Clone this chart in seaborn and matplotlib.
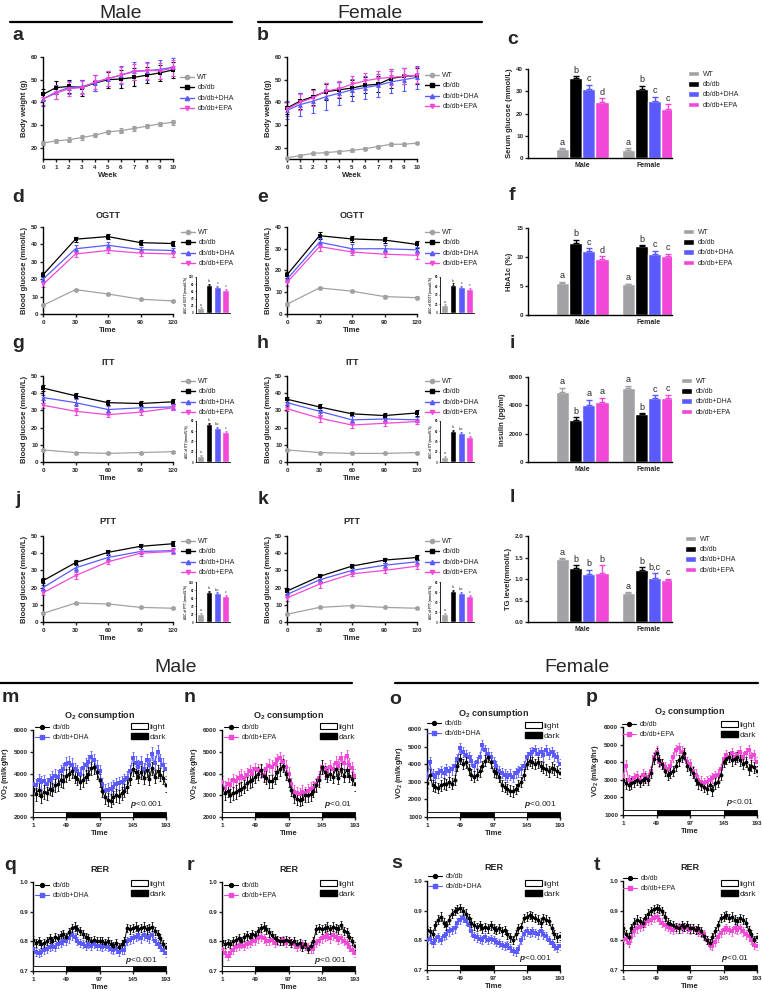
import matplotlib
matplotlib.use('Agg')
import matplotlib.pyplot as plt
import seaborn as sns
import pandas as pd
from matplotlib.lines import Line2D
from matplotlib.patches import Patch, Rectangle
from matplotlib.ticker import FormatStrFormatter

# ---------------- data ----------------
GROUPS = ['WT', 'db/db', 'db/db+DHA', 'db/db+EPA']
SEXES = ['Male', 'Female']
COLORS = {'WT': '#a2a2a6', 'db/db': '#000000', 'db/db+DHA': '#5a5aff', 'db/db+EPA': '#f248d8'}
MARKERS = {'WT': 'o', 'db/db': 's', 'db/db+DHA': '^', 'db/db+EPA': 'v'}

weeks = [0, 1, 2, 3, 4, 5, 6, 7, 8, 9, 10]
bw_male = {'WT': [22, 23, 23.5, 24.5, 25.5, 27, 27.5, 28.5, 29.5, 30.5, 31.2],
           'db/db': [43.5, 46.5, 47, 46.5, 48.5, 50, 50.3, 51, 52, 53, 54.3],
           'db/db+DHA': [41.5, 44.5, 46.5, 47, 48.5, 50.5, 52, 53.8, 54, 54.5, 55.5],
           'db/db+EPA': [41.5, 44, 46, 46.5, 49, 50.5, 52, 53.5, 54, 54, 55]}
bw_male_err = {'WT': [1, 1, 1, 1, 1, 1, 1, 1, 1, 1, 1],
               'db/db': [2.5, 2.8, 3, 3.5, 3.5, 3.5, 4, 4, 3.5, 3.5, 3.5],
               'db/db+DHA': [3, 3, 3, 3, 3.5, 3.5, 4, 4, 4, 4, 4],
               'db/db+EPA': [2.5, 2.5, 3, 3, 3, 3.5, 3.5, 3.5, 3.5, 3.5, 3.5]}
bw_female = {'WT': [15.5, 16.5, 17.5, 17.8, 18.3, 18.8, 19.5, 20.5, 21.5, 21.5, 22],
             'db/db': [37.5, 40.5, 42.5, 44.7, 45.5, 46.3, 47.5, 48, 50.5, 51.5, 51.8],
             'db/db+DHA': [36.5, 39, 40.5, 42.5, 44, 45.5, 46.5, 47.5, 49, 50, 51],
             'db/db+EPA': [37, 40, 42, 45, 46, 48, 49.5, 50.5, 51, 51.5, 52]}
bw_female_err = {'WT': [0.6, 0.6, 0.6, 0.6, 0.6, 0.6, 0.6, 0.6, 0.6, 0.6, 0.6],
                 'db/db': [2.5, 3.5, 3.5, 3.5, 3.5, 3.5, 3.5, 3.5, 4, 3.5, 3.5],
                 'db/db+DHA': [4, 5, 5, 6, 5, 5, 5, 5, 5, 5, 5],
                 'db/db+EPA': [3, 3.5, 3.5, 3.5, 3.5, 3.5, 3.5, 3.5, 3.5, 3.5, 3.5]}

test_time = [0, 30, 60, 90, 120]
ogtt_male = {'WT': [5, 14, 11.5, 8.5, 7.5], 'db/db': [22.5, 43, 44.5, 41, 40.5],
             'db/db+DHA': [20, 37.5, 39.5, 37, 36.5], 'db/db+EPA': [17, 34.5, 36.5, 35, 34.5]}
ogtt_female = {'WT': [4.5, 12, 10.5, 8, 7.5], 'db/db': [18, 36, 34.5, 34, 32],
               'db/db+DHA': [16, 33, 30, 30, 29.5], 'db/db+EPA': [14.5, 31, 28.5, 27.5, 27]}
itt_male = {'WT': [7, 5.5, 5, 5.5, 6], 'db/db': [43, 38.5, 34.5, 34, 35],
            'db/db+DHA': [37.5, 34.5, 30.5, 31.5, 32], 'db/db+EPA': [33, 29.5, 27.5, 29, 31.5]}
itt_female = {'WT': [7, 5.5, 5, 5, 5.5], 'db/db': [36.5, 32, 28, 27, 28.5],
              'db/db+DHA': [34.5, 29.5, 24.5, 25, 24.5], 'db/db+EPA': [31, 25.5, 21.5, 22.5, 23.5]}
ptt_male = {'WT': [5, 11, 10.5, 8.5, 8], 'db/db': [24, 34.5, 40.5, 44, 45.5],
            'db/db+DHA': [20, 31.5, 37.5, 41, 41.5], 'db/db+EPA': [17, 27, 35, 40, 41]}
ptt_female = {'WT': [4.5, 8.5, 9.5, 8.5, 8], 'db/db': [18, 26.5, 32.5, 36, 37.5],
              'db/db+DHA': [16, 24.5, 30, 33, 35], 'db/db+EPA': [14, 22, 28, 30, 32.5]}
test_err = {'WT': [0.6, 0.6, 0.6, 0.6, 0.6], 'db/db': [1.5, 1.5, 1.3, 1.5, 1.5],
            'db/db+DHA': [1.5, 2, 2, 1.5, 1.5], 'db/db+EPA': [1.5, 2, 1.5, 1.5, 1.5]}

auc_ogtt_male = [14, 78, 72, 64]
auc_ogtt_female = [17, 63, 57, 53]
auc_itt_male = [12, 74, 66, 58]
auc_itt_female = [10, 60, 56, 48]
auc_ptt_male = [20, 75, 72, 65]
auc_ptt_female = [16, 62, 58, 52]
auc_err = [2, 3, 3, 3]
auc_letters_ogtt = ['a', 'b', 'c', 'c']
auc_letters_other = ['a', 'b', 'b,c', 'c']

serum_glucose = {'WT': [4.0, 3.8], 'db/db': [36, 30.8], 'db/db+DHA': [31, 25.8], 'db/db+EPA': [25.3, 21.8]}
serum_glucose_err = {'WT': [0.5, 0.5], 'db/db': [0.8, 1.7], 'db/db+DHA': [2, 1.7], 'db/db+EPA': [1.5, 2.5]}
serum_glucose_letters = {'WT': ['a', 'a'], 'db/db': ['b', 'b'], 'db/db+DHA': ['c', 'c'], 'db/db+EPA': ['d', 'c']}

hba1c = {'WT': [5.6, 5.3], 'db/db': [12.4, 11.9], 'db/db+DHA': [11, 10.6], 'db/db+EPA': [9.6, 10.2]}
hba1c_err = {'WT': [0.15, 0.1], 'db/db': [0.6, 0.2], 'db/db+DHA': [0.5, 0.5], 'db/db+EPA': [0.5, 0.4]}
hba1c_letters = {'WT': ['a', 'a'], 'db/db': ['b', 'b'], 'db/db+DHA': ['c', 'c'], 'db/db+EPA': ['d', 'c']}

insulin = {'WT': [4950, 5200], 'db/db': [2950, 3380], 'db/db+DHA': [4000, 4550], 'db/db+EPA': [4250, 4500]}
insulin_err = {'WT': [300, 200], 'db/db': [200, 50], 'db/db+DHA': [400, 150], 'db/db+EPA': [300, 250]}
insulin_letters = {'WT': ['a', 'a'], 'db/db': ['b', 'b'], 'db/db+DHA': ['a', 'c'], 'db/db+EPA': ['a', 'c']}

tg = {'WT': [1.47, 0.68], 'db/db': [1.25, 1.2], 'db/db+DHA': [1.12, 1.03], 'db/db+EPA': [1.15, 0.97]}
tg_err = {'WT': [0.02, 0.02], 'db/db': [0.07, 0.07], 'db/db+DHA': [0.1, 0.1], 'db/db+EPA': [0.18, 0.04]}
tg_letters = {'WT': ['a', 'a'], 'db/db': ['b', 'b'], 'db/db+DHA': ['b', 'b,c'], 'db/db+EPA': ['b', 'c']}

cal_time = list(range(1, 194, 4))
ld_start = [1, 49, 97, 145]
ld_end = [49, 97, 145, 193]
ld_color = ['white', 'black', 'white', 'black']

vo2_m_db = [3300, 3050, 3250, 2950, 3150, 3100, 3300, 3250, 3450, 3500, 3700, 3650, 3900,
            4000, 4100, 3850, 3750, 3600, 3700, 3850, 4000, 4250, 4300, 4050, 3700,
            3200, 2900, 2800, 2750, 2900, 3000, 2950, 3100, 3200, 3400, 3750, 4200,
            4050, 3850, 4050, 3800, 4150, 3750, 4250, 3850, 4100, 3950, 3800, 3450]
vo2_m_dha = [3500, 3450, 3700, 3600, 3650, 3500, 3700, 3800, 3900, 3850, 4100, 4200, 4450,
             4500, 4400, 4200, 4100, 4000, 4250, 4400, 4550, 4750, 4600, 4300, 4100,
             3500, 3200, 3250, 3300, 3400, 3500, 3550, 3600, 3700, 3800, 4100, 4700,
             4500, 4300, 4500, 4200, 4600, 4400, 4900, 4500, 5000, 4600, 4400, 4200]
vo2_n_db = [3350, 3100, 3200, 3000, 3100, 3150, 3250, 3300, 3400, 3550, 3650, 3700, 3850,
            4000, 4150, 3900, 3800, 3650, 3650, 3800, 4050, 4200, 4350, 4000, 3700,
            3250, 2950, 2850, 2800, 2850, 3000, 3000, 3050, 3200, 3450, 3700, 4300,
            4050, 3900, 4000, 3850, 4200, 3800, 4200, 3900, 4150, 3900, 3750, 3500]
vo2_n_epa = [3600, 3350, 3500, 3450, 3700, 3650, 3800, 3900, 3800, 3950, 4100, 4000, 4200,
             4150, 4100, 3950, 4200, 4350, 4300, 4450, 4600, 4700, 4550, 4300, 4000,
             3500, 3150, 3100, 3050, 3150, 3100, 3200, 3300, 3350, 3500, 3800, 4300,
             4200, 4050, 4300, 4200, 4500, 4350, 4700, 4500, 4800, 4400, 4250, 3900]
vo2_o_db = [2950, 3400, 2800, 2700, 2650, 2800, 2900, 2850, 3000, 2900, 3100, 3900, 4300,
            4000, 4100, 3700, 3400, 3300, 3400, 3600, 3900, 4200, 4400, 4100, 3600,
            3500, 3300, 2800, 2700, 2600, 2500, 2450, 2600, 2800, 3000, 3400, 4000,
            4200, 4100, 4000, 4100, 3900, 3800, 3700, 3600, 3800, 3700, 3600, 3500]
vo2_o_dha = [3300, 4100, 3400, 3300, 3500, 3600, 3500, 3700, 3600, 3700, 3900, 4300, 4900,
             4700, 4500, 4400, 4200, 3900, 4100, 4400, 5100, 4800, 4600, 4400, 4100,
             3900, 3600, 3500, 3400, 3300, 3400, 3300, 3500, 3600, 3700, 3900, 4400,
             4600, 4700, 4800, 4600, 4700, 4500, 4800, 4600, 4700, 4500, 4400, 4000]
vo2_p_db = [3000, 2800, 2700, 2800, 2900, 3000, 2900, 3000, 3100, 3000, 3400, 4200, 4500,
            4100, 3900, 3500, 3300, 3400, 3500, 3800, 4100, 4300, 4500, 3800, 3600,
            3400, 3000, 2800, 2700, 2600, 2500, 2700, 2400, 2800, 2900, 3300, 4000,
            4200, 4300, 4100, 4200, 4300, 4100, 3900, 4000, 3600, 3800, 3700, 3500]
vo2_p_epa = [3200, 3800, 3000, 2900, 3100, 3200, 3000, 3300, 3200, 3100, 3500, 4300, 4600,
             4000, 3900, 3700, 3600, 3800, 4300, 4700, 4800, 4600, 4400, 4000, 3900,
             3500, 3300, 3000, 2900, 2800, 2900, 3000, 3100, 3200, 3300, 3600, 4200,
             4400, 4300, 4500, 4300, 4400, 4600, 4300, 4500, 4700, 4300, 4400, 4000]

rer_q_db = [0.805, 0.795, 0.80, 0.79, 0.795, 0.80, 0.81, 0.80, 0.815, 0.81, 0.82, 0.825, 0.815,
            0.83, 0.845, 0.85, 0.84, 0.835, 0.825, 0.815, 0.81, 0.80, 0.805, 0.80, 0.80,
            0.80, 0.795, 0.80, 0.79, 0.785, 0.795, 0.78, 0.79, 0.80, 0.845, 0.84, 0.845,
            0.85, 0.84, 0.845, 0.85, 0.84, 0.845, 0.85, 0.835, 0.825, 0.81, 0.79, 0.78]
rer_q_dha = [0.775, 0.765, 0.76, 0.765, 0.77, 0.775, 0.78, 0.785, 0.78, 0.79, 0.795, 0.80, 0.80,
             0.81, 0.82, 0.815, 0.80, 0.795, 0.79, 0.785, 0.79, 0.785, 0.79, 0.785, 0.785,
             0.78, 0.785, 0.78, 0.775, 0.77, 0.775, 0.765, 0.77, 0.77, 0.80, 0.805, 0.81,
             0.815, 0.82, 0.81, 0.82, 0.815, 0.81, 0.82, 0.80, 0.79, 0.78, 0.77, 0.76]
rer_r_db = [0.80, 0.79, 0.795, 0.79, 0.80, 0.805, 0.81, 0.80, 0.815, 0.82, 0.815, 0.825, 0.82,
            0.835, 0.845, 0.85, 0.84, 0.83, 0.82, 0.81, 0.805, 0.80, 0.80, 0.805, 0.80,
            0.795, 0.80, 0.79, 0.795, 0.78, 0.79, 0.775, 0.785, 0.80, 0.84, 0.845, 0.84,
            0.845, 0.85, 0.84, 0.85, 0.845, 0.84, 0.855, 0.835, 0.83, 0.815, 0.80, 0.785]
rer_r_epa = [0.775, 0.76, 0.75, 0.76, 0.77, 0.78, 0.785, 0.79, 0.785, 0.79, 0.795, 0.80, 0.80,
             0.81, 0.815, 0.81, 0.80, 0.80, 0.805, 0.795, 0.80, 0.80, 0.805, 0.795, 0.80,
             0.795, 0.79, 0.78, 0.785, 0.79, 0.785, 0.78, 0.775, 0.775, 0.795, 0.80, 0.81,
             0.815, 0.82, 0.81, 0.82, 0.815, 0.805, 0.81, 0.80, 0.795, 0.78, 0.77, 0.76]
rer_s_db = [0.835, 0.83, 0.82, 0.85, 0.87, 0.88, 0.86, 0.85, 0.87, 0.89, 0.90, 0.905, 0.91,
            0.90, 0.89, 0.875, 0.86, 0.85, 0.845, 0.85, 0.84, 0.845, 0.84, 0.85, 0.84,
            0.835, 0.84, 0.83, 0.835, 0.82, 0.81, 0.80, 0.82, 0.84, 0.845, 0.875, 0.88,
            0.885, 0.88, 0.875, 0.87, 0.86, 0.875, 0.87, 0.865, 0.84, 0.82, 0.81, 0.815]
rer_s_dha = [0.80, 0.805, 0.79, 0.80, 0.81, 0.80, 0.815, 0.82, 0.83, 0.835, 0.84, 0.86, 0.87,
             0.875, 0.865, 0.85, 0.83, 0.815, 0.81, 0.805, 0.80, 0.81, 0.80, 0.805, 0.80,
             0.795, 0.79, 0.785, 0.78, 0.785, 0.775, 0.765, 0.76, 0.77, 0.80, 0.82, 0.83,
             0.825, 0.83, 0.825, 0.82, 0.83, 0.82, 0.815, 0.80, 0.79, 0.78, 0.775, 0.78]
rer_t_db = [0.84, 0.82, 0.81, 0.84, 0.86, 0.87, 0.865, 0.86, 0.875, 0.89, 0.90, 0.905, 0.91,
            0.905, 0.90, 0.88, 0.86, 0.855, 0.85, 0.845, 0.84, 0.85, 0.845, 0.85, 0.84,
            0.84, 0.835, 0.84, 0.83, 0.815, 0.80, 0.79, 0.81, 0.83, 0.85, 0.875, 0.88,
            0.885, 0.875, 0.88, 0.87, 0.865, 0.875, 0.87, 0.86, 0.835, 0.82, 0.80, 0.81]
rer_t_epa = [0.80, 0.805, 0.79, 0.81, 0.83, 0.84, 0.845, 0.85, 0.86, 0.865, 0.87, 0.875, 0.88,
             0.87, 0.86, 0.85, 0.845, 0.84, 0.835, 0.84, 0.845, 0.84, 0.845, 0.84, 0.835,
             0.84, 0.835, 0.83, 0.825, 0.82, 0.80, 0.785, 0.78, 0.795, 0.81, 0.825, 0.835,
             0.84, 0.835, 0.83, 0.84, 0.835, 0.84, 0.83, 0.82, 0.815, 0.80, 0.785, 0.78]
vo2_err = 300
rer_err = 0.014

# ---------------- style ----------------
W, H = 762, 992
sns.set_theme(style='ticks')
plt.rcParams['font.family'] = ['Liberation Sans', 'DejaVu Sans']
plt.rcParams.update({
    'font.weight': 'bold', 'axes.labelweight': 'bold',
    'axes.linewidth': 1.0, 'axes.edgecolor': 'black',
    'xtick.major.width': 1.0, 'ytick.major.width': 1.0,
    'xtick.major.size': 2.5, 'ytick.major.size': 2.5,
    'xtick.labelsize': 4.5, 'ytick.labelsize': 4.5,
    'xtick.major.pad': 1.5, 'ytick.major.pad': 1.0,
    'axes.labelsize': 5.5, 'axes.labelpad': 2,
    'mathtext.fontset': 'custom', 'mathtext.rm': 'Liberation Sans',
    'mathtext.it': 'Liberation Sans:italic', 'mathtext.bf': 'Liberation Sans:bold',
})

fig = plt.figure(figsize=(W / 100, H / 100), dpi=100)


def px_axes(l, t, r, b):
    return fig.add_axes([l / W, 1 - b / H, (r - l) / W, (b - t) / H])


def ftext(x, y, s, **kw):
    kw.setdefault('ha', 'center')
    kw.setdefault('va', 'center')
    fig.text(x / W, 1 - y / H, s, **kw)


def header(x0, x1, y_line, y_text, label):
    fig.add_artist(Line2D([x0 / W, x1 / W], [1 - y_line / H] * 2, color='black', lw=1.6))
    ftext((x0 + x1) / 2, y_text, label, fontsize=14, fontweight='normal')


def legend_at(x, y, handles, labels, size=5, **kw):
    fig.legend(handles, labels, loc='upper left', bbox_to_anchor=(x / W, 1 - y / H),
               bbox_transform=fig.transFigure, frameon=False, borderpad=0, borderaxespad=0,
               prop={'size': size, 'weight': 'normal'}, **kw)


def group_legend(x, y):
    hs = [Line2D([], [], color=COLORS[g], marker=MARKERS[g], markersize=3, lw=1) for g in GROUPS]
    legend_at(x, y, hs, GROUPS, handlelength=2.0, handletextpad=0.5, labelspacing=0.5)


def bar_legend(x, y):
    hs = [Patch(facecolor=COLORS[g]) for g in GROUPS]
    legend_at(x, y, hs, GROUPS, handlelength=1.6, handleheight=0.8, handletextpad=0.5, labelspacing=0.45)


def bars_of(ax):
    # bars actually drawn, in hue order
    out = []
    for cont in ax.containers:
        out.append([b for b in cont if b is not None and b.get_height() > 0])
    return out


def line_panel(box, x, means, errs, ylim, yticks, xticks, xlabel, ylabel):
    ax = px_axes(*box)
    df = pd.DataFrame([(g, xi, yi) for g in GROUPS for xi, yi in zip(x, means[g])],
                      columns=['group', 'x', 'y'])
    for g in GROUPS:
        ax.errorbar(x, means[g], yerr=errs[g], fmt='none', ecolor=COLORS[g], elinewidth=0.8,
                    capsize=1.6, capthick=0.8, clip_on=False, zorder=2)
    sns.lineplot(data=df, x='x', y='y', hue='group', style='group', hue_order=GROUPS,
                 style_order=GROUPS, palette=COLORS, markers=MARKERS, dashes=False,
                 markersize=3.5, markeredgewidth=0, linewidth=0.9, errorbar=None,
                 legend=False, ax=ax, clip_on=False, zorder=3)
    ax.set(xlim=(x[0], x[-1]), ylim=ylim, xticks=xticks, yticks=yticks)
    ax.set_xlabel(xlabel)
    ax.set_ylabel(ylabel)
    sns.despine(ax=ax)
    return ax


def bar_panel(box, vals, errs, letters, ylim, yticks, ylabel):
    ax = px_axes(*box)
    df = pd.DataFrame([(s, g, vals[g][i]) for g in GROUPS for i, s in enumerate(SEXES)],
                      columns=['sex', 'group', 'value'])
    sns.barplot(data=df, x='sex', y='value', hue='group', order=SEXES, hue_order=GROUPS,
                palette=COLORS, saturation=1, width=0.8, errorbar=None, legend=False, ax=ax)
    pad = 0.015 * (ylim[1] - ylim[0])
    for g, cont in zip(GROUPS, bars_of(ax)):
        for i, bar in enumerate(cont):
            cx = bar.get_x() + bar.get_width() / 2
            top = bar.get_height()
            ax.errorbar(cx, top, yerr=[[0], [errs[g][i]]], fmt='none', ecolor=COLORS[g],
                        elinewidth=1, capsize=2.2, capthick=1)
            ax.text(cx, top + errs[g][i] + pad, letters[g][i], ha='center', va='bottom',
                    fontsize=6.5, fontweight='normal')
    ax.set(xlim=(-0.82, 1.36), ylim=ylim, yticks=yticks, xlabel='')
    ax.set_ylabel(ylabel)
    ax.tick_params(axis='x', length=0, pad=3, labelsize=5)
    sns.despine(ax=ax)
    return ax


def auc_inset(box, vals, letters, ymax, ylabel):
    ax = px_axes(*box)
    df = pd.DataFrame({'group': GROUPS, 'auc': vals})
    sns.barplot(data=df, x='group', y='auc', hue='group', order=GROUPS, hue_order=GROUPS,
                palette=COLORS, saturation=1, width=0.8, legend=False, ax=ax)
    for k, cont in enumerate(bars_of(ax)):
        for bar in cont:
            cx = bar.get_x() + bar.get_width() / 2
            ax.errorbar(cx, bar.get_height(), yerr=[[0], [auc_err[k]]], fmt='none',
                        ecolor=COLORS[GROUPS[k]], elinewidth=0.6, capsize=1, capthick=0.6)
            ax.text(cx, bar.get_height() + auc_err[k] + ymax * 0.02, letters[k], ha='center',
                    va='bottom', fontsize=2.5, fontweight='normal')
    ax.set(ylim=(0, ymax), yticks=list(range(0, ymax + 1, 20)), xlim=(-0.55, 3.5))
    ax.set_xticks([])
    ax.set_xlabel('')
    ax.set_ylabel(ylabel, fontsize=2.2, labelpad=1)
    ax.tick_params(axis='y', labelsize=2.2, length=1, width=0.5, pad=0.5)
    for s in ('left', 'bottom'):
        ax.spines[s].set_linewidth(0.6)
    sns.despine(ax=ax)
    return ax


def cal_panel(box, db, trt, trt_name, ylim, yticks, ylabel, err, strip_h):
    ax = px_axes(*box)
    for vals, name, mk in [(trt, trt_name, 's'), (db, 'db/db', 'o')]:
        ax.errorbar(cal_time, vals, yerr=err, fmt='none', ecolor=COLORS[name], elinewidth=0.6,
                    capsize=1, capthick=0.6, zorder=2)
        sns.lineplot(x=cal_time, y=vals, color=COLORS[name], marker=mk, markersize=2.8,
                     markeredgewidth=0, linewidth=0.7, ax=ax, zorder=3)
    for x0, x1, fc in zip(ld_start, ld_end, ld_color):
        ax.add_patch(Rectangle((x0, ylim[0]), x1 - x0, strip_h, facecolor=fc, edgecolor='black',
                               lw=0.6, zorder=5, clip_on=False))
    ax.set(xlim=(1, 193), ylim=ylim, yticks=yticks, xticks=[1, 49, 97, 145, 193])
    ax.set_xlabel('Time')
    ax.set_ylabel(ylabel)
    sns.despine(ax=ax)
    return ax


def cal_legends(x1, y1, x2, y2, trt_name):
    hs = [Line2D([], [], color='black', marker='o', markersize=2.8, lw=0.8),
          Line2D([], [], color=COLORS[trt_name], marker='s', markersize=2.8, lw=0.8)]
    legend_at(x1, y1, hs, ['db/db', trt_name], handlelength=2.0, handletextpad=0.6, labelspacing=0.5)
    hs2 = [Patch(facecolor='white', edgecolor='black', lw=0.8), Patch(facecolor='black', edgecolor='black')]
    legend_at(x2, y2, hs2, ['light', 'dark'], size=6, handlelength=2.0, handleheight=0.8,
              handletextpad=0.2, labelspacing=0.2)


# ---------------- headers ----------------
header(10, 232, 22, 13, 'Male')
header(258, 482, 22, 13, 'Female')
header(0, 352, 683, 668, 'Male')
header(395, 758, 683, 668, 'Female')

# ---------------- row 1 ----------------
ax = line_panel((43, 57, 173, 159), weeks, bw_male, bw_male_err, (15, 60), [20, 30, 40, 50, 60],
                weeks, 'Week', 'Body weight (g)')
group_legend(180, 74)
ax = line_panel((287, 57, 417, 159), weeks, bw_female, bw_female_err, (15, 60), [20, 30, 40, 50, 60],
                weeks, 'Week', 'Body weight (g)')
group_legend(425, 72)
ax = bar_panel((528, 69, 672, 158), serum_glucose, serum_glucose_err, serum_glucose_letters,
               (0, 40), [0, 10, 20, 30, 40], 'Serum glucose (mmol/L)')
bar_legend(688, 71)

# ---------------- glucose tests ----------------
rows = [
    ('OGTT', ogtt_male, ogtt_female, (0, 50), (0, 40), 227, 314, 215,
     auc_ogtt_male, auc_ogtt_female, 100, 80, 277, 313, auc_letters_ogtt, 'AUC of OGTT (mmol/L*h)'),
    ('ITT', itt_male, itt_female, (0, 50), (0, 50), 376, 462, 362,
     auc_itt_male, auc_itt_female, 80, 80, 421, 462, auc_letters_other, 'AUC of ITT (mmol/L*h)'),
    ('PTT', ptt_male, ptt_female, (0, 50), (0, 50), 536, 622, 522,
     auc_ptt_male, auc_ptt_female, 100, 80, 582, 622, auc_letters_other, 'AUC of PTT (mmol/L*h)'),
]
for name, mdat, fdat, ylm, ylf, top, bot, ty, am, af, ymm, ymf, itop, ibot, lets, alab in rows:
    for x0, x1, dat, ylim, auc, ymax in [(43, 173, mdat, ylm, am, ymm), (287, 417, fdat, ylf, af, ymf)]:
        line_panel((x0, top, x1, bot), test_time, dat, test_err, ylim,
                   list(range(ylim[0], ylim[1] + 1, 10)), test_time, 'Time', 'Blood glucose (mmol/L)')
        ftext((x0 + x1) / 2, ty, name, fontsize=6.5)
        auc_inset((x0 + 153, itop, x0 + 187, ibot), auc, lets, ymax, alab)
    group_legend(181, top + 2)
    group_legend(425, top + 2)

bar_panel((528, 228, 672, 315), hba1c, hba1c_err, hba1c_letters, (0, 15), [0, 5, 10, 15], 'HbA1c (%)')
bar_legend(683, 229)
bar_panel((528, 377, 672, 462), insulin, insulin_err, insulin_letters, (0, 6000),
          [0, 2000, 4000, 6000], 'Insulin (pg/ml)')
bar_legend(681, 378)
ax = bar_panel((528, 536, 672, 622), tg, tg_err, tg_letters, (0, 2.0), [0, 0.5, 1.0, 1.5, 2.0],
               'TG level(mmol/L)')
ax.yaxis.set_major_formatter(FormatStrFormatter('%.1f'))
bar_legend(685, 536)

# ---------------- calorimetry ----------------
vo2_label = 'VO$_2$ (ml/kg/hr)'
cal_specs = [
    ((33, 730, 166, 817), vo2_m_db, vo2_m_dha, 'db/db+DHA', (2000, 6000), 'p<0.001', 715),
    ((222, 730, 355, 817), vo2_n_db, vo2_n_epa, 'db/db+EPA', (2000, 6000), 'p<0.01', 715),
    ((427, 729, 560, 817), vo2_o_db, vo2_o_dha, 'db/db+DHA', (1000, 6000), 'p<0.001', 713),
    ((623, 727, 757, 815), vo2_p_db, vo2_p_epa, 'db/db+EPA', (1000, 6000), 'p<0.01', 712),
]
for (l, t, r, b), db, trt, nm, ylim, ptxt, ty in cal_specs:
    cal_panel((l, t, r, b), db, trt, nm, ylim, list(range(ylim[0], ylim[1] + 1, 1000)), vo2_label,
              vo2_err, (ylim[1] - ylim[0]) * 0.055)
    ftext((l + r) / 2, ty, 'O$_2$ consumption', fontsize=6.5)
    fig.text((r - 3) / W, 1 - (b - 12) / H, '$p$' + ptxt[1:], ha='right', va='center',
             fontsize=6, fontweight='normal')

rer_specs = [
    ((33, 882, 166, 971), rer_q_db, rer_q_dha, 'db/db+DHA', 'p<0.001'),
    ((222, 882, 355, 971), rer_r_db, rer_r_epa, 'db/db+EPA', 'p<0.001'),
    ((427, 881, 560, 970), rer_s_db, rer_s_dha, 'db/db+DHA', 'p<0.001'),
    ((623, 881, 757, 970), rer_t_db, rer_t_epa, 'db/db+EPA', 'p<0.01'),
]
for (l, t, r, b), db, trt, nm, ptxt in rer_specs:
    ax = cal_panel((l, t, r, b), db, trt, nm, (0.7, 1.0), [0.7, 0.8, 0.9, 1.0], '', rer_err, 0.017)
    ax.yaxis.set_major_formatter(FormatStrFormatter('%.1f'))
    ftext((l + r) / 2, t - 13, 'RER', fontsize=6.5)
    fig.text((r - 8) / W, 1 - (b - 11) / H, '$p$' + ptxt[1:], ha='right', va='center',
             fontsize=6, fontweight='normal')

cal_legends(35, 724, 131, 723, 'db/db+DHA')
cal_legends(224, 724, 320, 723, 'db/db+EPA')
cal_legends(427, 720, 525, 722, 'db/db+DHA')
cal_legends(622, 721, 721, 721, 'db/db+EPA')
cal_legends(35, 882, 131, 880, 'db/db+DHA')
cal_legends(224, 882, 320, 880, 'db/db+EPA')
cal_legends(428, 873, 525, 880, 'db/db+DHA')
cal_legends(623, 875, 721, 880, 'db/db+EPA')

# ---------------- panel letters ----------------
letters_pos = [('a', 18, 35), ('b', 263, 35), ('c', 513, 40), ('d', 18, 197), ('e', 263, 197),
               ('f', 512, 195), ('g', 18, 343), ('h', 263, 343), ('i', 512, 343), ('j', 18, 500),
               ('k', 263, 500), ('l', 512, 497), ('m', 10, 698), ('n', 190, 698), ('o', 395, 699),
               ('p', 592, 697), ('q', 10, 865), ('r', 190, 865), ('s', 397, 863), ('t', 597, 865)]
for s, x, y in letters_pos:
    ftext(x, y, s, fontsize=14, fontweight='bold')

fig.savefig('out.png', dpi=100)
